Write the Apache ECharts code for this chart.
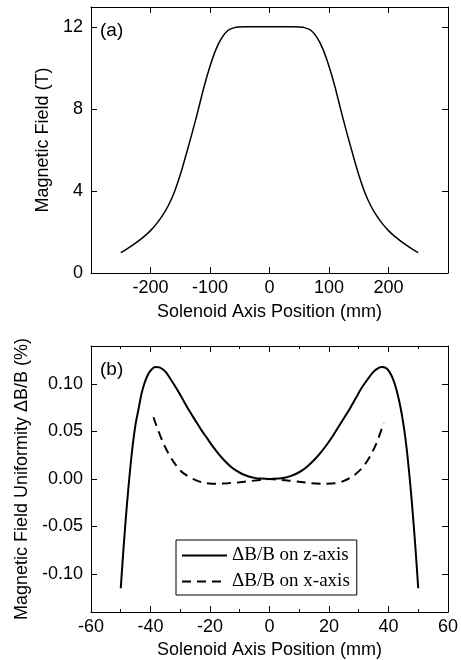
<!DOCTYPE html>
<html>
<head>
<meta charset="utf-8">
<script src="https://cdn.jsdelivr.net/npm/echarts@6/dist/echarts.min.js"></script>
<style>
  html, body { margin: 0; padding: 0; background: #fff; }
  #chart { width: 461px; height: 660px; }
</style>
</head>
<body>
<div id="chart"></div>
<script>
// (a) field along solenoid axis
const fieldPos = [-250, -240, -230, -220, -210, -200, -190, -180, -170, -160, -150, -140, -130, -120, -110, -100, -90, -80, -70, -60, -50, -40, -20, 0,
  20, 40, 50, 60, 70, 80, 90, 100, 110, 120, 130, 140, 150, 160, 170, 180, 190, 200, 210, 220, 230, 240, 250];
const fieldT = [1.0, 1.17, 1.36, 1.57, 1.8, 2.07, 2.4, 2.8, 3.3, 3.95, 4.8, 5.8, 6.85, 7.95, 9.1, 10.1, 10.93, 11.5, 11.85, 11.98, 12.02, 12.03, 12.03, 12.03,
  12.03, 12.03, 12.02, 11.98, 11.85, 11.5, 10.93, 10.1, 9.1, 7.95, 6.85, 5.8, 4.8, 3.95, 3.3, 2.8, 2.4, 2.07, 1.8, 1.57, 1.36, 1.17, 1.0];

// (b) uniformity on z-axis
const zPos = [-50, -49, -48, -47, -46, -45, -44, -43, -42, -41, -40, -38.5, -37, -35, -33, -31, -29, -27, -25, -23, -21, -19, -17, -15, -13, -11, -9, -7, -5, -3, 0,
  3, 5, 7, 9, 11, 13, 15, 17, 19, 21, 23, 25, 27, 29, 31, 33, 35, 37, 38, 39.5, 41, 42, 43, 44, 45, 46, 47, 48, 49, 50];
const zDev = [-0.115, -0.07, -0.03, 0.005, 0.035, 0.058, 0.074, 0.09, 0.101, 0.109, 0.114, 0.118, 0.1175, 0.113, 0.104, 0.094, 0.083, 0.072, 0.062, 0.052, 0.043, 0.034, 0.026, 0.019, 0.013, 0.0085, 0.005, 0.0027, 0.0012, 0.0004, 0,
  0.0004, 0.0013, 0.003, 0.0055, 0.009, 0.014, 0.02, 0.027, 0.035, 0.044, 0.054, 0.064, 0.074, 0.085, 0.096, 0.105, 0.113, 0.1175, 0.118, 0.116, 0.109, 0.101, 0.09, 0.076, 0.058, 0.035, 0.005, -0.03, -0.07, -0.115];

// (b) uniformity on x-axis
const xPos = [-39, -38, -36, -34, -32, -30, -28, -25, -22, -18, -14, -10, -6, -2, 0, 2, 6, 10, 14, 18, 22, 25, 28, 30, 32, 34, 36, 38.4];
const xDev = [0.065, 0.056, 0.04, 0.027, 0.017, 0.009, 0.004, -0.001, -0.004, -0.005, -0.0045, -0.0035, -0.002, -0.0005, 0,
  -0.0005, -0.0015, -0.003, -0.0045, -0.005, -0.0045, -0.002, 0.003, 0.008, 0.015, 0.025, 0.038, 0.059];

// tick values of the (b) y axis
const devTicks = [-0.1, -0.05, 0, 0.05, 0.1];

const zip = (xs, ys) => xs.map((x, i) => [x, ys[i]]);

const font = '"Liberation Sans", Arial, sans-serif';
const serif = '"Liberation Serif", "Times New Roman", serif';
const black = '#000';

const labelStyle = { color: black, fontSize: 18, fontFamily: font };
const nameStyle = { color: black, fontSize: 18, fontFamily: font };
const line = { onZero: false, lineStyle: { color: black, width: 1 } };
const tick = { inside: true, length: 6, lineStyle: { color: black, width: 1 } };

function mirror(base, position) {
  return Object.assign({}, base, {
    position: position,
    name: '',
    axisLabel: { show: false, customValues: base.axisLabel.customValues },
  });
}

const topX = {
  gridIndex: 0, type: 'value', min: -300, max: 300, interval: 100,
  name: 'Solenoid Axis Position (mm)', nameLocation: 'middle', nameGap: 30, nameTextStyle: nameStyle,
  axisLine: line, axisTick: tick, splitLine: { show: false },
  axisLabel: Object.assign({ margin: 6, formatter: v => (Math.abs(v) === 300 ? '' : v) }, labelStyle),
};
const topY = {
  gridIndex: 0, type: 'value', min: 0, max: 13, interval: 4,
  name: 'Magnetic Field (T)', nameLocation: 'middle', nameGap: 37, nameTextStyle: nameStyle,
  axisLine: line, axisTick: tick, splitLine: { show: false },
  axisLabel: Object.assign({ margin: 8, formatter: v => (v % 4 === 0 ? v : '') }, labelStyle),
};
const botX = {
  gridIndex: 1, type: 'value', min: -60, max: 60, interval: 20,
  name: 'Solenoid Axis Position (mm)', nameLocation: 'middle', nameGap: 29, nameTextStyle: nameStyle,
  axisLine: line, axisTick: tick, splitLine: { show: false },
  minorTick: { show: true, splitNumber: 2, length: 3, lineStyle: { color: black, width: 1 } },
  minorSplitLine: { show: false },
  axisLabel: Object.assign({ margin: 6 }, labelStyle),
};
const botY = {
  gridIndex: 1, type: 'value', min: -0.14, max: 0.14,
  name: 'Magnetic Field Uniformity ΔB/B (%)', nameLocation: 'middle', nameGap: 58, nameTextStyle: nameStyle,
  axisLine: line,
  axisTick: Object.assign({ customValues: devTicks }, tick),
  splitLine: { show: false },
  axisLabel: Object.assign({ margin: 8, customValues: devTicks, formatter: v => v.toFixed(2) }, labelStyle),
};

const chart = echarts.init(document.getElementById('chart'), null, { renderer: 'canvas' });
chart.setOption({
  animation: false,
  backgroundColor: '#fff',
  grid: [
    { left: 91, right: 13, top: 7, height: 266 },
    { left: 91, right: 13, top: 346, height: 266 },
  ],
  xAxis: [topX, mirror(topX, 'top'), botX, mirror(botX, 'top')],
  yAxis: [topY, mirror(topY, 'right'), botY, mirror(botY, 'right')],
  legend: {
    orient: 'vertical',
    left: 176, top: 540,
    padding: [6, 7, 4, 5],
    itemWidth: 45, itemHeight: 14, itemGap: 7,
    borderColor: black, borderWidth: 1,
    backgroundColor: '#fff',
    itemStyle: { opacity: 0 },
    textStyle: { color: black, fontSize: 19, fontFamily: serif },
    data: ['ΔB/B on z-axis', 'ΔB/B on x-axis'],
  },
  graphic: [
    { type: 'text', left: 100, top: 21, style: { text: '(a)', fontSize: 19, fontFamily: font, fill: black } },
    { type: 'text', left: 100, top: 360, style: { text: '(b)', fontSize: 19, fontFamily: font, fill: black } },
  ],
  series: [
    {
      type: 'line', xAxisIndex: 0, yAxisIndex: 0, data: zip(fieldPos, fieldT),
      symbol: 'none', smooth: 0.3, lineStyle: { color: black, width: 1.5 },
    },
    {
      name: 'ΔB/B on z-axis', type: 'line', xAxisIndex: 2, yAxisIndex: 2, data: zip(zPos, zDev),
      symbol: 'none', smooth: 0.3, lineStyle: { color: black, width: 2 }, itemStyle: { color: black },
    },
    {
      name: 'ΔB/B on x-axis', type: 'line', xAxisIndex: 2, yAxisIndex: 2, data: zip(xPos, xDev),
      symbol: 'none', smooth: 0.3, lineStyle: { color: black, width: 2, type: [9, 6] }, itemStyle: { color: black },
    },
  ],
});
window.addEventListener('resize', () => chart.resize());
</script>
</body>
</html>
